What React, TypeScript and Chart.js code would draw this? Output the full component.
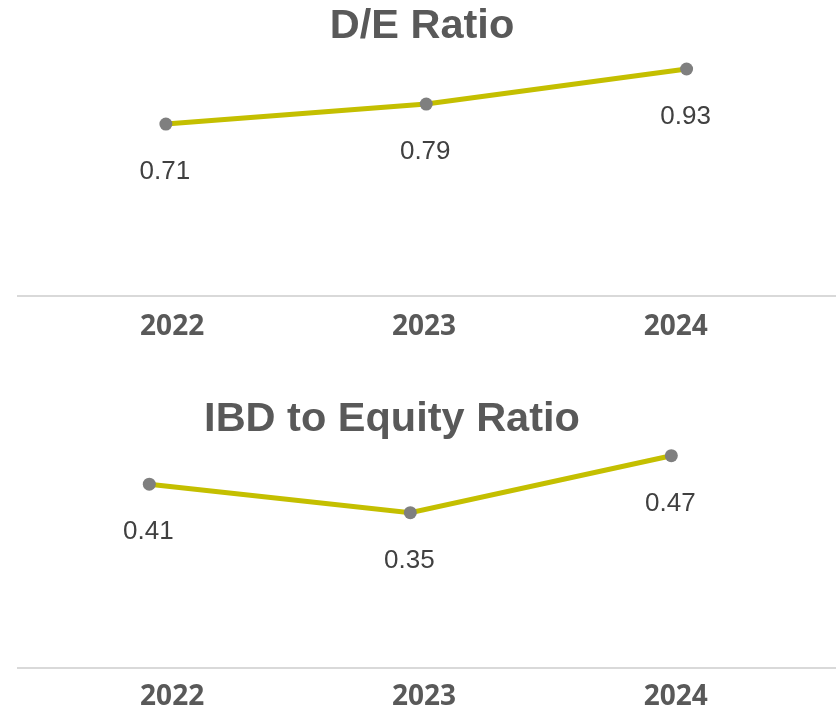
import React, { useEffect, useRef } from "react";
import { Chart, registerables } from "chart.js";

Chart.register(...registerables);

const years = ["2022", "2023", "2024"];
const deValues = [0.71, 0.79, 0.93];
const ibdValues = [0.41, 0.35, 0.47];

const LINE_COLOR = "#c4bf00";
const POINT_COLOR = "#7f7f7f";
const TEXT_COLOR = "#595959";
const LABEL_COLOR = "#404040";

type PanelProps = {
  title: string;
  titleX: number;
  titleY: number;
  values: number[];
  top: number;
  height: number;
  padTop: number;
  padBottom: number;
  tickPad: number;
  xData: [number, number];
  xLabels: [number, number];
  yRange: [number, number];
};

function Panel(p: PanelProps) {
  const ref = useRef<HTMLCanvasElement | null>(null);
  useEffect(() => {
    if (!ref.current) return;
    const values = p.values;
    const valueLabels = {
      id: "valueLabels",
      afterDatasetsDraw(chart: any) {
        const ctx = chart.ctx;
        const meta = chart.getDatasetMeta(0);
        ctx.save();
        ctx.font = '26px "Liberation Sans", Arial, sans-serif';
        ctx.fillStyle = LABEL_COLOR;
        ctx.textAlign = "center";
        ctx.textBaseline = "alphabetic";
        meta.data.forEach((pt: any, i: number) => {
          ctx.fillText(values[i].toFixed(2), pt.x - 1, pt.y + 55);
        });
        ctx.restore();
      },
    };
    const titlePlugin = {
      id: "panelTitle",
      afterDraw(chart: any) {
        const ctx = chart.ctx;
        ctx.save();
        ctx.font = 'bold 41.5px "Liberation Sans", Arial, sans-serif';
        ctx.fillStyle = TEXT_COLOR;
        ctx.textAlign = "center";
        ctx.textBaseline = "alphabetic";
        ctx.fillText(p.title, p.titleX, p.titleY);
        ctx.restore();
      },
    };
    const chart = new Chart(ref.current, {
      type: "line",
      data: {
        datasets: [
          {
            data: values.map((v, i) => ({ x: i, y: v })),
            borderColor: LINE_COLOR,
            borderWidth: 5,
            pointBackgroundColor: POINT_COLOR,
            pointBorderWidth: 0,
            pointRadius: 6.5,
            tension: 0,
            clip: false as any,
            xAxisID: "x",
            yAxisID: "y",
          },
        ],
      },
      options: {
        responsive: false,
        animation: false,
        layout: { padding: { left: 18, right: 2, top: p.padTop, bottom: p.padBottom } },
        plugins: {
          legend: { display: false },
          tooltip: { enabled: false },
          title: { display: false },
        },
        scales: {
          x: { type: "linear", display: false, min: p.xData[0], max: p.xData[1] },
          xl: {
            type: "linear",
            position: "bottom",
            min: p.xLabels[0],
            max: p.xLabels[1],
            afterBuildTicks: (axis: any) => {
              axis.ticks = years.map((_, i) => ({ value: i }));
            },
            ticks: {
              autoSkip: false,
              maxRotation: 0,
              padding: p.tickPad,
              color: TEXT_COLOR,
              font: { family: '"Open Sans", sans-serif', size: 28, weight: "bold" },
              callback: (v: any) => years[Number(v)] ?? "",
            },
            grid: { display: false, drawTicks: false },
            border: { display: true, color: "#d9d9d9", width: 2 },
          },
          y: { display: false, min: p.yRange[0], max: p.yRange[1] },
        },
      } as any,
      plugins: [valueLabels, titlePlugin],
    });
    return () => chart.destroy();
  }, []);
  return (
    <canvas
      ref={ref}
      width={842}
      height={p.height}
      style={{ position: "absolute", left: 0, top: p.top, display: "block" }}
    />
  );
}

export default function App() {
  return (
    <div
      style={{
        position: "fixed",
        left: 0,
        top: 0,
        width: 838,
        height: 711,
        background: "#fff",
        overflow: "hidden",
      }}
    >
      <Panel
        title="D/E Ratio"
        titleX={422}
        titleY={38}
        values={deValues}
        top={0}
        height={360}
        padTop={59}
        padBottom={2}
        tickPad={14}
        xData={[-0.568, 2.572]}
        xLabels={[-0.612, 2.634]}
        yRange={[0.022, 0.97]}
      />
      <Panel
        title="IBD to Equity Ratio"
        titleX={392}
        titleY={41}
        values={ibdValues}
        top={390}
        height={336}
        padTop={60}
        padBottom={0}
        tickPad={12}
        xData={[-0.503, 2.629]}
        xLabels={[-0.612, 2.634]}
        yRange={[0.022, 0.482]}
      />
    </div>
  );
}
